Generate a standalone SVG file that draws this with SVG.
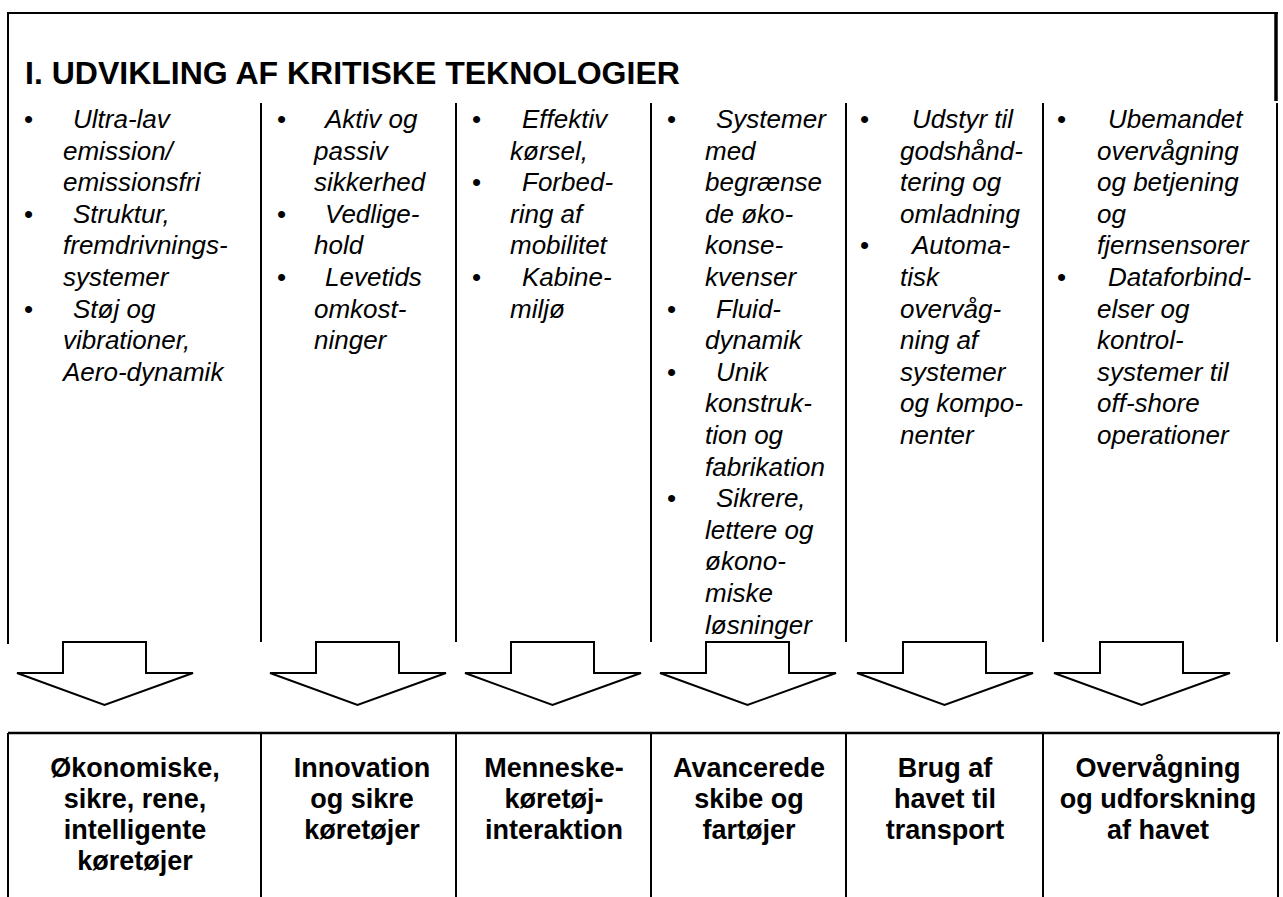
<svg xmlns="http://www.w3.org/2000/svg" width="1283" height="897" viewBox="0 0 1283 897">
<style>
.ln{stroke:#000;stroke-width:2;fill:none}
.arr{fill:#fff;stroke:#000;stroke-width:2;stroke-linejoin:miter}
.t{font-family:"Liberation Sans",Arial,sans-serif;font-style:italic;font-size:26px;fill:#000}
.b{font-family:"Liberation Sans",Arial,sans-serif;font-size:26px;fill:#000}
.h{font-family:"Liberation Sans",Arial,sans-serif;font-weight:bold;font-size:27px;fill:#000;text-anchor:middle}
.title{font-family:"Liberation Sans",Arial,sans-serif;font-weight:bold;font-size:32px;fill:#000}
</style>
<rect width="1283" height="897" fill="#fff"/>
<g id="frame">
<path class="ln" d="M8 644 V13 H1278"/>
<path d="M1276 13 V101" stroke="#000" stroke-width="3.5"/>
<path class="ln" d="M1277 103 V642"/>
<path class="ln" d="M261 103 V642 M456 103 V642 M651 103 V642 M846 103 V642 M1043 103 V642"/>
<path d="M8 733 H1280" stroke="#000" stroke-width="2.5"/>
<path class="ln" d="M8 733 V897 M261 733 V897 M456 733 V897 M651 733 V897 M846 733 V897 M1043 733 V897 M1278 733 V897"/>
</g>
<text id="title" class="title" x="25" y="84">I. UDVIKLING AF KRITISKE TEKNOLOGIER</text>
<g id="col1">
<text class="b" x="24" y="128">•</text><text class="b" x="24" y="222.8">•</text><text class="b" x="24" y="317.6">•</text>
<text class="t" x="73" y="128">Ultra-lav</text>
<text class="t" x="63" y="159.6">emission/</text>
<text class="t" x="63" y="191.2">emissionsfri</text>
<text class="t" x="73" y="222.8">Struktur,</text>
<text class="t" x="63" y="254.4">fremdrivnings-</text>
<text class="t" x="63" y="286">systemer</text>
<text class="t" x="73" y="317.6">Støj og</text>
<text class="t" x="63" y="349.2">vibrationer,</text>
<text class="t" x="63" y="380.8">Aero-dynamik</text>
</g>
<g id="col2">
<text class="b" x="277" y="128">•</text><text class="b" x="277" y="222.8">•</text><text class="b" x="277" y="286">•</text>
<text class="t" x="325" y="128">Aktiv og</text>
<text class="t" x="314" y="159.6">passiv</text>
<text class="t" x="314" y="191.2">sikkerhed</text>
<text class="t" x="325" y="222.8">Vedlige-</text>
<text class="t" x="314" y="254.4">hold</text>
<text class="t" x="325" y="286">Levetids</text>
<text class="t" x="314" y="317.6">omkost-</text>
<text class="t" x="314" y="349.2">ninger</text>
</g>
<g id="col3">
<text class="b" x="472" y="128">•</text><text class="b" x="472" y="191.2">•</text><text class="b" x="472" y="286">•</text>
<text class="t" x="522" y="128">Effektiv</text>
<text class="t" x="510" y="159.6">kørsel,</text>
<text class="t" x="522" y="191.2">Forbed-</text>
<text class="t" x="510" y="222.8">ring af</text>
<text class="t" x="510" y="254.4">mobilitet</text>
<text class="t" x="522" y="286">Kabine-</text>
<text class="t" x="510" y="317.6">miljø</text>
</g>
<g id="col4">
<text class="b" x="667" y="128">•</text><text class="b" x="667" y="317.6">•</text><text class="b" x="667" y="380.8">•</text><text class="b" x="667" y="507.2">•</text>
<text class="t" x="716" y="128">Systemer</text>
<text class="t" x="705" y="159.6">med</text>
<text class="t" x="705" y="191.2">begrænse</text>
<text class="t" x="705" y="222.8">de øko-</text>
<text class="t" x="705" y="254.4">konse-</text>
<text class="t" x="705" y="286">kvenser</text>
<text class="t" x="716" y="317.6">Fluid-</text>
<text class="t" x="705" y="349.2">dynamik</text>
<text class="t" x="716" y="380.8">Unik</text>
<text class="t" x="705" y="412.4">konstruk-</text>
<text class="t" x="705" y="444">tion og</text>
<text class="t" x="705" y="475.6">fabrikation</text>
<text class="t" x="716" y="507.2">Sikrere,</text>
<text class="t" x="705" y="538.8">lettere og</text>
<text class="t" x="705" y="570.4">økono-</text>
<text class="t" x="705" y="602">miske</text>
<text class="t" x="705" y="633.6">løsninger</text>
</g>
<g id="col5">
<text class="b" x="860" y="128">•</text><text class="b" x="860" y="254.4">•</text>
<text class="t" x="912" y="128">Udstyr til</text>
<text class="t" x="900" y="159.6">godshånd-</text>
<text class="t" x="900" y="191.2">tering og</text>
<text class="t" x="900" y="222.8">omladning</text>
<text class="t" x="912" y="254.4">Automa-</text>
<text class="t" x="900" y="286">tisk</text>
<text class="t" x="900" y="317.6">overvåg-</text>
<text class="t" x="900" y="349.2">ning af</text>
<text class="t" x="900" y="380.8">systemer</text>
<text class="t" x="900" y="412.4">og kompo-</text>
<text class="t" x="900" y="444">nenter</text>
</g>
<g id="col6">
<text class="b" x="1057" y="128">•</text><text class="b" x="1057" y="286">•</text>
<text class="t" x="1108" y="128">Ubemandet</text>
<text class="t" x="1097" y="159.6">overvågning</text>
<text class="t" x="1097" y="191.2">og betjening</text>
<text class="t" x="1097" y="222.8">og</text>
<text class="t" x="1097" y="254.4">fjernsensorer</text>
<text class="t" x="1108" y="286">Dataforbind-</text>
<text class="t" x="1097" y="317.6">elser og</text>
<text class="t" x="1097" y="349.2">kontrol-</text>
<text class="t" x="1097" y="380.8">systemer til</text>
<text class="t" x="1097" y="412.4">off-shore</text>
<text class="t" x="1097" y="444">operationer</text>
</g>
<g id="connectors">
<path class="arr" d="M63 642 H146 V673 H193 L104.5 705 L17 673 H63 Z"/>
<path class="arr" d="M316 642 H399 V673 H446 L357.5 705 L270 673 H316 Z"/>
<path class="arr" d="M511 642 H594 V673 H641 L552.5 705 L465 673 H511 Z"/>
<path class="arr" d="M706 642 H789 V673 H836 L747.5 705 L660 673 H706 Z"/>
<path class="arr" d="M903 642 H986 V673 H1033 L944.5 705 L857 673 H903 Z"/>
<path class="arr" d="M1100 642 H1183 V673 H1230 L1141.5 705 L1054 673 H1100 Z"/>
</g>
<g id="out1"><text class="h" x="135" y="777">Økonomiske,</text><text class="h" x="135" y="808">sikre, rene,</text><text class="h" x="135" y="839">intelligente</text><text class="h" x="135" y="870">køretøjer</text></g>
<g id="out2"><text class="h" x="362" y="777">Innovation</text><text class="h" x="362" y="808">og sikre</text><text class="h" x="362" y="839">køretøjer</text></g>
<g id="out3"><text class="h" x="554" y="777">Menneske-</text><text class="h" x="554" y="808">køretøj-</text><text class="h" x="554" y="839">interaktion</text></g>
<g id="out4"><text class="h" x="749" y="777">Avancerede</text><text class="h" x="749" y="808">skibe og</text><text class="h" x="749" y="839">fartøjer</text></g>
<g id="out5"><text class="h" x="945" y="777">Brug af</text><text class="h" x="945" y="808">havet til</text><text class="h" x="945" y="839">transport</text></g>
<g id="out6"><text class="h" x="1158" y="777">Overvågning</text><text class="h" x="1158" y="808">og udforskning</text><text class="h" x="1158" y="839">af havet</text></g>
</svg>
